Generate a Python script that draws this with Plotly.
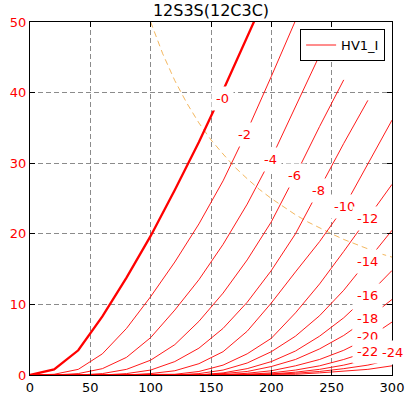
import plotly.graph_objects as go

# x nodes shared by every curve
X = [0, 20, 40, 60, 80, 100, 120, 140, 160, 180, 200, 220, 240, 260, 280, 300]

LEVEL_NAMES = ["-0", "-2", "-4", "-6", "-8", "-10", "-12", "-14", "-16", "-18", "-20", "-22", "-24"]

Y_M0 = [0, 0.8, 3.5, 8.3, 13.8, 19.7, 26.2, 33.0, 40.3, 47.8, 55.5]
Y_M2 = [0, 0.1, 0.8, 3.0, 6.6, 11.1, 16.0, 21.4, 27.5, 34.6, 42.3, 50.2]
Y_M4 = [0, 0, 0.2, 0.9, 2.5, 5.3, 9.2, 13.5, 18.5, 24.2, 30.7, 38.0, 45.3]
Y_M6 = [0, 0, 0, 0.2, 0.8, 2.1, 4.3, 7.6, 11.6, 16.3, 21.7, 28.3, 35.2, 41.8]
Y_M8 = [0, 0, 0, 0, 0.2, 0.7, 1.9, 3.8, 6.6, 10.3, 14.8, 20.0, 26.4, 32.8, 38.9]
Y_M10 = [0, 0, 0, 0, 0, 0.2, 0.6, 1.6, 3.3, 6.2, 10.2, 14.6, 18.9, 23.7, 29.8, 36.1]
Y_M12 = [0, 0, 0, 0, 0, 0, 0.1, 0.5, 1.4, 3.0, 5.2, 8.8, 12.9, 17.5, 22.2, 27.0]
Y_M14 = [0, 0, 0, 0, 0, 0, 0, 0.2, 0.7, 1.7, 3.3, 5.5, 8.4, 12.0, 16.2, 20.5]
Y_M16 = [0, 0, 0, 0, 0, 0, 0, 0, 0.3, 0.9, 1.9, 3.4, 5.5, 8.1, 11.3, 14.8]
Y_M18 = [0, 0, 0, 0, 0, 0, 0, 0, 0.2, 0.5, 1.2, 2.2, 3.7, 5.6, 8.0, 10.7]
Y_M20 = [0, 0, 0, 0, 0, 0, 0, 0, 0, 0.25, 0.6, 1.3, 2.2, 3.5, 5.2, 7.5]
Y_M22 = [0, 0, 0, 0, 0, 0, 0, 0, 0, 0.1, 0.3, 0.7, 1.3, 2.2, 3.3, 4.8]
Y_M24 = [0, 0, 0, 0, 0, 0, 0, 0, 0, 0, 0.15, 0.4, 0.8, 1.4, 2.2, 3.4]
Y_M26 = [0, 0, 0, 0, 0, 0, 0, 0, 0, 0, 0.1, 0.25, 0.5, 0.9, 1.4, 2.2]
Y_M28 = [0, 0, 0, 0, 0, 0, 0, 0, 0, 0, 0, 0.1, 0.3, 0.5, 0.8, 1.3]

CURVES = [Y_M0, Y_M2, Y_M4, Y_M6, Y_M8, Y_M10, Y_M12, Y_M14, Y_M16,
          Y_M18, Y_M20, Y_M22, Y_M24, Y_M26, Y_M28]

# label anchor points (on the curves)
LABEL_X = [159.7, 177.6, 199.1, 219.0, 238.9, 260.5, 279.8, 279.3, 279.8, 279.8, 279.8, 279.8, 300.0]
LABEL_Y = [39.2, 34.0, 30.5, 28.2, 26.1, 23.8, 22.2, 16.05, 11.3, 8.0, 5.4, 3.3, 3.2]

# pale dashed reference line
DASH_X = [100, 110, 120, 130, 140, 150, 160, 170, 180, 190, 200,
          210, 220, 230, 240, 250, 260, 270, 280, 290, 300]
DASH_Y = [50.0, 45.5, 41.7, 38.5, 35.7, 33.3, 31.3, 29.4, 27.8, 26.3, 25.0,
          23.8, 22.7, 21.7, 20.8, 20.0, 19.2, 18.5, 17.9, 17.2, 16.7]

RED = "#ff0000"
FONT = "DejaVu Sans"

fig = go.Figure()

fig.add_trace(go.Scatter(x=DASH_X, y=DASH_Y, mode="lines",
                         line=dict(color="rgba(240,165,55,0.8)", width=1, dash="6px,4px"),
                         showlegend=False, hoverinfo="skip"))

for i, ys in enumerate(CURVES):
    fig.add_trace(go.Scatter(
        x=X[:len(ys)], y=ys, mode="lines",
        line=dict(color=RED, width=2.3 if i == 0 else 0.9),
        name="HV1_I", showlegend=(i == 1), hoverinfo="skip"))

for t, lx, ly in zip(LEVEL_NAMES, LABEL_X, LABEL_Y):
    fig.add_annotation(x=lx, y=ly, text=t, showarrow=False,
                       font=dict(family=FONT, size=13, color=RED),
                       bgcolor="white", borderpad=4,
                       xanchor="center", yanchor="middle")

axis_common = dict(showgrid=True, gridcolor="rgba(110,110,110,0.8)", gridwidth=1,
                   griddash="5px,3px", showline=True, linecolor="black", linewidth=1,
                   mirror="ticks", ticks="inside", ticklen=5, tickcolor="black",
                   zeroline=False, automargin=False)

fig.update_xaxes(range=[0, 300], dtick=50, tick0=0,
                 tickfont=dict(family=FONT, size=13, color="black"), **axis_common)
fig.update_yaxes(range=[0, 50], dtick=10, tick0=0,
                 tickfont=dict(family=FONT, size=13, color=RED), **axis_common)

fig.update_layout(
    width=409, height=396,
    margin=dict(l=30, r=17, t=22, b=21, autoexpand=False),
    paper_bgcolor="white", plot_bgcolor="white",
    font=dict(family=FONT, size=13, color="black"),
    title=dict(text="12S3S(12C3C)", x=0.5, xref="paper", xanchor="center",
               y=1 - 10 / 396, yref="container", yanchor="middle", automargin=False,
               font=dict(family=FONT, size=16, color="black")),
    showlegend=True,
    legend=dict(x=0.981, y=0.98, xanchor="right", yanchor="top",
                bgcolor="white", bordercolor="black", borderwidth=1,
                font=dict(family=FONT, size=13, color="black")),
)

fig.write_html("out.html",
               config={"displayModeBar": False},
               post_script="document.body.style.margin='0';document.body.style.overflow='hidden';")
